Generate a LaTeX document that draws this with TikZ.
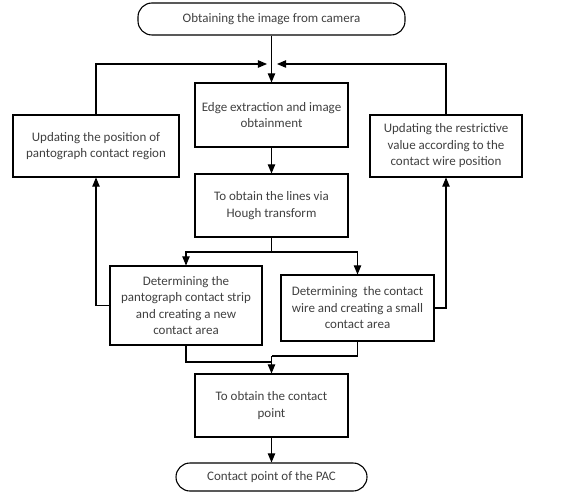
\documentclass[tikz,border=0pt]{standalone}
\usepackage{fontspec}
\setmainfont{Carlito}
\usepackage{tikz}
\usetikzlibrary{arrows}
\usetikzlibrary{calc}

\begin{document}
\begin{tikzpicture}[>=triangle 45,x=1pt,y=-1pt,font=\fontsize{13}{16.5}\selectfont]
		\tikzstyle{flowbox}=[rectangle,draw,line width=1.1pt,align=center,
			text=black!75,inner sep=2pt];
		\tikzstyle{terminal}=[flowbox,rounded corners=14pt];
		\tikzstyle{flow}=[line width=1.1pt];
		\useasboundingbox(0,0)rectangle(572,494);

		\node[terminal,minimum width=267pt,minimum height=32pt](start)at(271.5,19){Obtaining the image from camera};
		\node[flowbox,minimum width=153pt,minimum height=64pt](edge)at(271.5,115){Edge extraction and image\\obtainment};
		\node[flowbox,minimum width=166pt,minimum height=62pt](updl)at(96,146){Updating the position of\\pantograph contact region};
		\node[flowbox,minimum width=152pt,minimum height=62pt](updr)at(446,146){Updating the restrictive\\value according to the\\contact wire position};
		\node[flowbox,minimum width=153pt,minimum height=63pt](hough)at(271.5,205.5){To obtain the lines via\\Hough transform};
		\node[flowbox,minimum width=152pt,minimum height=79pt](detl)at(186,305.5){Determining the\\pantograph contact strip\\and creating a new\\contact area};
		\node[flowbox,minimum width=153pt,minimum height=66pt](detr)at(357.5,308){Determining~ the contact\\wire and creating a small\\contact area};
		\node[flowbox,minimum width=153pt,minimum height=63pt](point)at(271.5,405.5){To obtain the contact\\point};
		\node[terminal,minimum width=191pt,minimum height=28pt](stop)at(271.5,477){Contact point of the PAC};

		\coordinate(ml)at(267,64);
		\coordinate(mr)at(277,64);
		\coordinate(split)at(271.5,252);
		\coordinate(jl)at(271.5,362);
		\coordinate(jr)at(271.5,356);

		\draw[flow,->](start)--(edge);
		\draw[flow,->](updl.north)|-(ml);
		\draw[flow,->](updr.north)|-(mr);
		\draw[flow,->](edge)--(hough);
		\draw[flow](hough)--(split);
		\draw[flow,->](split)-|(detl.north);
		\draw[flow,->](split)-|(detr.north);
		\draw[flow,->](detl.west)-|(updl.south);
		\draw[flow,->](detr.east)-|(updr.south);
		\draw[flow](detl.south)|-(jl);
		\draw[flow](detr.south)|-(jr);
		\draw[flow,->](jr)--(point);
		\draw[flow,->](point)--(stop);
	\end{tikzpicture}
\end{document}
